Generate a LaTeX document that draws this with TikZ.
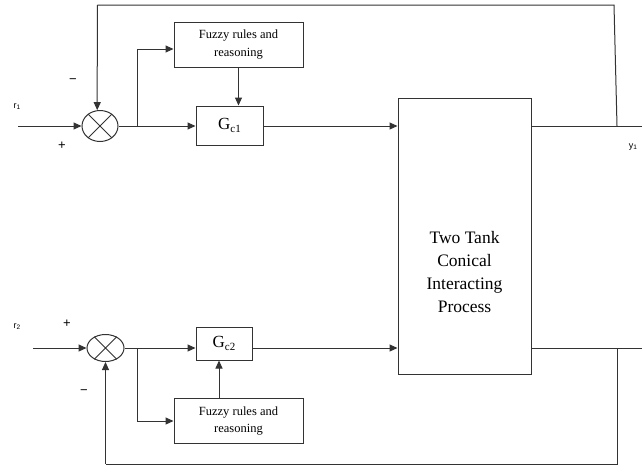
\documentclass[tikz,border=0pt]{standalone}
\usepackage{fontspec}
\setmainfont{Liberation Serif}
\newfontfamily\lsans{Liberation Sans}
\usetikzlibrary{arrows.meta,shapes.geometric}
\tikzset{
  ln/.style={draw=black!80, line width=1pt},
  arr/.style={ln, -{Triangle[length=8pt,width=7pt]}},
  blk/.style={ln, rectangle, inner sep=0pt, align=center},
  fuzzy/.style={blk, minimum width=129pt, minimum height=45pt,
    font=\fontsize{12.5}{17.5}\selectfont},
  gbox/.style={blk, font=\fontsize{17}{17}\selectfont},
  summ/.style={ln, ellipse, inner sep=0pt},
  sig/.style={inner sep=0pt, font=\lsans\fontsize{9}{9}\selectfont},
  sgn/.style={inner sep=0pt, font=\lsans\fontsize{13}{13}\selectfont},
}
\newcommand{\gsub}[1]{G{\fontsize{11}{11}\selectfont\raisebox{-2.5pt}{#1}}}
\begin{document}
\begin{tikzpicture}[x=1pt,y=-1pt]
\useasboundingbox[fill=white] (0,0) rectangle (642,466);

% ---- upper loop ----
\node[summ, minimum width=36pt, minimum height=31pt] (s1) at (100,126) {};
\draw[ln] (s1.45) -- (s1.225) (s1.135) -- (s1.315);
\node[fuzzy] (f1) at (238.5,44.5) {Fuzzy rules and\\reasoning};
\node[gbox, minimum width=67pt, minimum height=39pt] (g1) at (229.5,125.5) {\gsub{c1}};

% ---- process ----
\node[blk, minimum width=133pt, minimum height=276pt] (p) at (464.5,236) {};
\node[inner sep=0pt, align=center, font=\fontsize{17.5}{23}\selectfont] (pt) at (464.5,272) {Two Tank\\Conical\\Interacting\\Process};

% ---- lower loop ----
\node[summ, minimum width=37pt, minimum height=27pt] (s2) at (105.5,348) {};
\draw[ln] (s2.45) -- (s2.225) (s2.135) -- (s2.315);
\node[gbox, minimum width=56pt, minimum height=33pt] (g2) at (224,343.5) {\gsub{c2}};
\node[fuzzy] (f2) at (238.5,421) {Fuzzy rules and\\reasoning};

% coordinates
\coordinate (in1) at (18,126);
\coordinate (in2) at (33,348);
\coordinate (b1) at (137,126);
\coordinate (b2) at (137,348);
\coordinate (o1) at (617,126);
\coordinate (o2) at (617,348);
\coordinate (e1) at (642,126);
\coordinate (e2) at (642,348);
\coordinate (t1) at (614,5);
\coordinate (t0) at (97.3,5);
\coordinate (u0) at (105.5,464);
\coordinate (u1) at (617,464);

% upper connectors
\draw[arr] (in1) -- (s1.west);
\draw[ln] (s1.east) -- (b1);
\draw[arr] (b1) -- (b1 -| g1.west);
\draw[arr] (b1) |- ([yshift=-4.5pt]f1.west);
\draw[arr] (f1.south) -- (f1.south |- g1.north);
\draw[arr] (g1.east |- b1) -- (b1 -| p.west);
\draw[ln] (b1 -| p.east) -- (e1);
\draw[ln] (o1) -- (t1) -- (t0);
\draw[arr] (t0) -- (s1.100);

% lower connectors
\draw[arr] (in2) -- (s2.west);
\draw[ln] (s2.east) -- (b2);
\draw[arr] (b2) -- (b2 -| g2.west);
\draw[arr] (b2) |- (f2.west);
\draw[arr] ([xshift=-5pt]f2.north -| g2.south) -- ([xshift=-5pt]g2.south);
\draw[arr] (g2.east |- b2) -- (b2 -| p.west);
\draw[ln] (b2 -| p.east) -- (e2);
\draw[ln] (o2) -- (u1) -- (u0);
\draw[arr] (u0) -- (s2.south);

% labels
\node[sig] (r1) at (17,107) {r\raisebox{-1pt}{\fontsize{6.5}{6.5}\selectfont 1}};
\node[sig] (r2) at (17,327) {r\raisebox{-1pt}{\fontsize{6.5}{6.5}\selectfont 2}};
\node[sig] (y1) at (633,147) {y\raisebox{-1pt}{\fontsize{6.5}{6.5}\selectfont 1}};
\node[sgn] (p1) at (62,146) {+};
\node[sgn] (m1) at (73,81) {−};
\node[sgn] (p2) at (67,324) {+};
\node[sgn] (m2) at (84,392) {−};
\end{tikzpicture}
\end{document}
